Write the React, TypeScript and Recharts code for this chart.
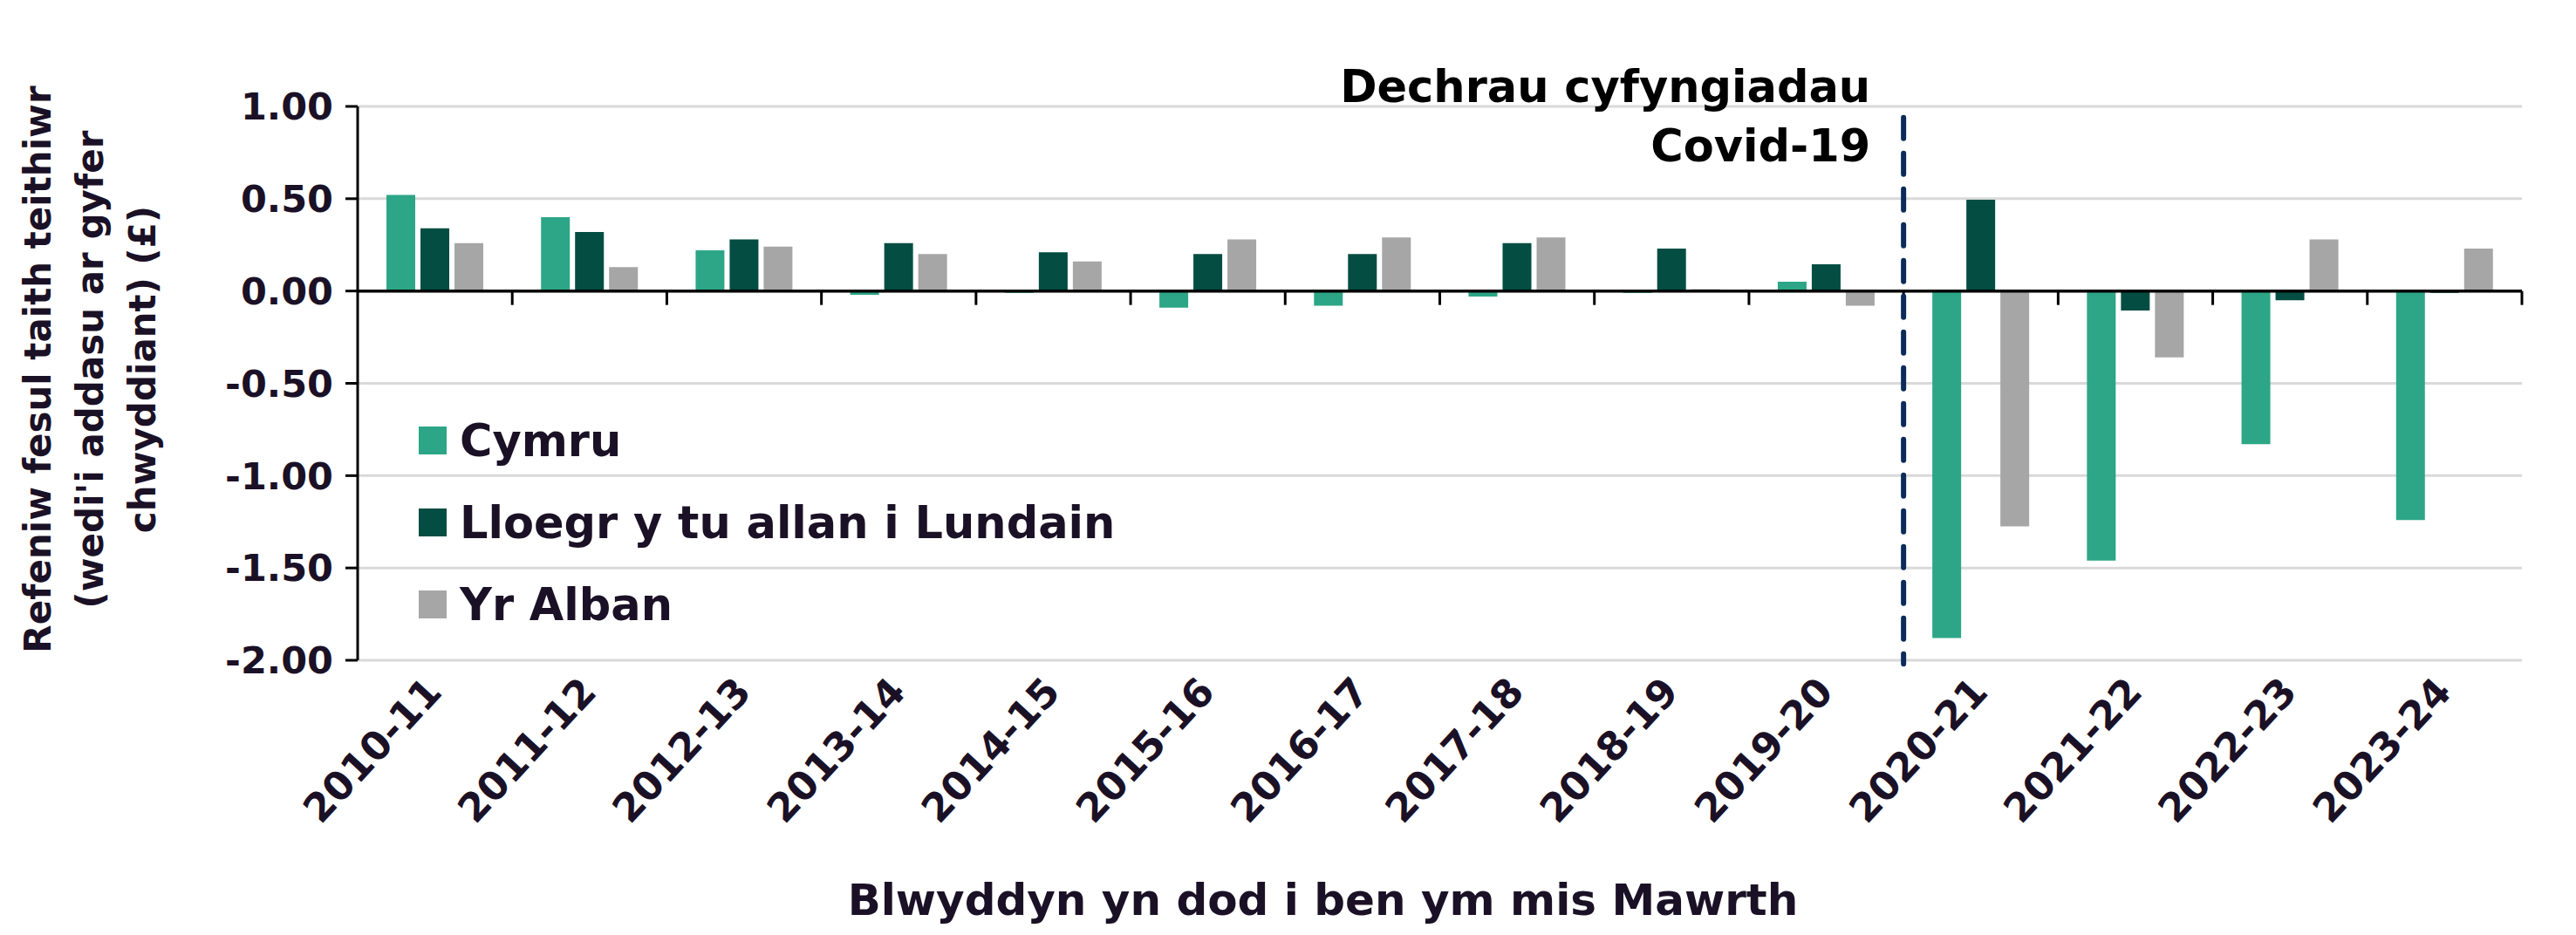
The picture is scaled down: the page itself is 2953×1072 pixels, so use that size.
import { Bar, BarChart, CartesianGrid, Legend, ReferenceLine, XAxis, YAxis } from "recharts";

const years = [
  "2010-11", "2011-12", "2012-13", "2013-14", "2014-15", "2015-16", "2016-17",
  "2017-18", "2018-19", "2019-20", "2020-21", "2021-22", "2022-23", "2023-24",
];
const cymru = [0.52, 0.4, 0.22, -0.02, -0.01, -0.09, -0.08, -0.03, -0.01, 0.05, -1.88, -1.46, -0.83, -1.24];
const lloegr = [0.34, 0.32, 0.28, 0.26, 0.21, 0.2, 0.2, 0.26, 0.23, 0.145, 0.495, -0.105, -0.05, -0.01];
const alban = [0.26, 0.13, 0.24, 0.2, 0.16, 0.28, 0.29, 0.29, 0.01, -0.08, -1.275, -0.36, 0.28, 0.23];
const yTicks = [1, 0.5, 0, -0.5, -1, -1.5, -2];
const seriesNames = ["Cymru", "Lloegr y tu allan i Lundain", "Yr Alban"];
const seriesColors = ["#2ca686", "#034d42", "#a6a6a6"];
const yTitle = ["Refeniw fesul taith teithiwr", "(wedi'i addasu ar gyfer", "chwyddiant) (£)"];
const xTitle = "Blwyddyn yn dod i ben ym mis Mawrth";
const covidNote = ["Dechrau cyfyngiadau", "Covid-19"];
const covidBefore = "2019-20";
const covidAfter = "2020-21";

const data = years.map((year, i) => ({
  year,
  cymru: cymru[i],
  lloegr: lloegr[i],
  alban: alban[i],
}));

const font = "'DejaVu Sans', sans-serif";
const ink = "#1b1126";

function YearTick({ x, y, payload }: any) {
  const tx = x + 10;
  const ty = y + 38;
  return (
    <text x={tx} y={ty} transform={`rotate(-47, ${tx}, ${ty})`} textAnchor="end"
      fontFamily={font} fontWeight="bold" fontSize={45} fill={ink}>
      {payload.value}
    </text>
  );
}

// tick mark on the zero line, halfway between two category centres
function BoundaryTick(last: boolean) {
  return (props: any) => {
    const { x1, x2, y1 } = props;
    const x = last ? x2 + (x2 - x1) / 2 : (x1 + x2) / 2;
    return <line x1={x} x2={x} y1={y1} y2={y1 + 16} stroke="#000" strokeWidth={3} />;
  };
}

function CovidLine(props: any) {
  const { x1, x2, y1, y2 } = props;
  const x = (x1 + x2) / 2;
  return (
    <g>
      <line x1={x} x2={x} y1={y1} y2={y2} stroke="#0b2c59" strokeWidth={6}
        strokeDasharray="24 17" strokeLinecap="round" />
      {covidNote.map((t, i) => (
        <text key={t} x={x - 38} y={y1 - 18 + i * 68} textAnchor="end"
          fontFamily={font} fontWeight="bold" fontSize={51} fill="#000">
          {t}
        </text>
      ))}
    </g>
  );
}

function LegendBox({ payload }: any) {
  return (
    <div style={{ display: "flex", flexDirection: "column" }}>
      {(payload || []).map((p: any) => (
        <div key={p.value} style={{ display: "flex", alignItems: "center", height: 94 }}>
          <div style={{ width: 32, height: 32, background: p.color, marginRight: 15 }} />
          <span style={{ fontFamily: font, fontWeight: "bold", fontSize: 51, color: ink, whiteSpace: "nowrap" }}>
            {p.value}
          </span>
        </div>
      ))}
    </div>
  );
}

function App() {
  const boundaryPairs = years.slice(0, -1).map((y, i) => [y, years[i + 1]]);
  return (
    <div style={{ position: "absolute", left: 0, top: 0, background: "#fff" }}>
      <BarChart width={2953} height={1072} data={data} barSize={33} barGap={6}
        margin={{ top: 122, right: 62, bottom: 55, left: 0 }}>
        <CartesianGrid vertical={false} stroke="#d9d9d9" strokeWidth={3} />
        <XAxis dataKey="year" interval={0} axisLine={false} tickLine={false} tickSize={0}
          tickMargin={0} height={260} tick={<YearTick />}
          label={{
            content: ({ viewBox }: any) => (
              <text x={viewBox.x + viewBox.width / 2 - 134} y={viewBox.y + 292} textAnchor="middle"
                fontFamily={font} fontWeight="bold" fontSize={50} fill={ink}>
                {xTitle}
              </text>
            ),
          }} />
        <YAxis type="number" domain={[-2, 1]} ticks={yTicks} interval={0} width={410}
          tickFormatter={(v: number) => v.toFixed(2)}
          axisLine={{ stroke: "#000", strokeWidth: 3 }} tickLine={{ stroke: "#000", strokeWidth: 3 }}
          tickSize={14} tickMargin={14}
          tick={{ fontFamily: font, fontWeight: "bold", fontSize: 43, fill: ink }}
          label={{
            content: ({ viewBox }: any) => {
              const cy = viewBox.y + viewBox.height / 2 - 16;
              return (
                <g>
                  {yTitle.map((t, i) => {
                    const cx = 58 + i * 60;
                    return (
                      <text key={t} x={cx} y={cy} transform={`rotate(-90, ${cx}, ${cy})`}
                        textAnchor="middle" fontFamily={font} fontWeight="bold" fontSize={42} fill={ink}>
                        {t}
                      </text>
                    );
                  })}
                </g>
              );
            },
          }} />
        <Legend layout="vertical" align="center" verticalAlign="middle"
          wrapperStyle={{ left: 480, top: 458, width: "auto" }} content={<LegendBox />} />
        <Bar dataKey="cymru" name={seriesNames[0]} fill={seriesColors[0]} isAnimationActive={false} />
        <Bar dataKey="lloegr" name={seriesNames[1]} fill={seriesColors[1]} isAnimationActive={false} />
        <Bar dataKey="alban" name={seriesNames[2]} fill={seriesColors[2]} isAnimationActive={false} />
        <ReferenceLine y={0} stroke="#000" strokeWidth={3.5} />
        {boundaryPairs.map(([a, b]) => (
          <ReferenceLine key={a} ifOverflow="visible"
            segment={[{ x: a, y: 0 }, { x: b, y: 0 }]} shape={BoundaryTick(false)} />
        ))}
        <ReferenceLine ifOverflow="visible"
          segment={[{ x: years[years.length - 2], y: 0 }, { x: years[years.length - 1], y: 0 }]}
          shape={BoundaryTick(true)} />
        <ReferenceLine ifOverflow="visible"
          segment={[{ x: covidBefore, y: 0.94 }, { x: covidAfter, y: -2.02 }]} shape={CovidLine} />
      </BarChart>
    </div>
  );
}

export default App;
